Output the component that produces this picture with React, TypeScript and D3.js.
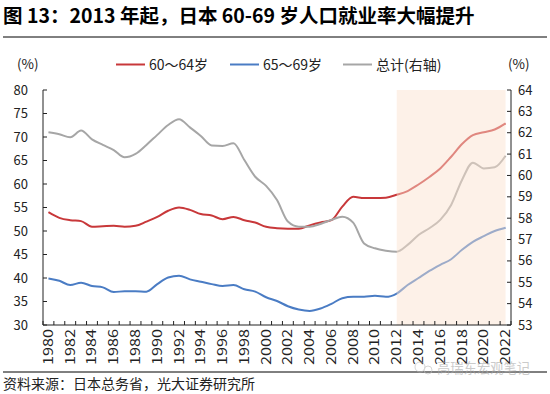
import React from "react";
import * as d3 from "d3";

const years: number[] = d3.range(1980, 2023);
const age6064: number[] = [
  54.0, 52.8, 52.3, 52.1, 50.9, 51.0, 51.1, 50.9, 51.1, 52.0,
  53.0, 54.3, 55.0, 54.5, 53.6, 53.3, 52.5, 53.0, 52.3, 51.8,
  50.9, 50.6, 50.5, 50.5, 51.2, 51.8, 52.3, 55.2, 57.3, 57.0,
  57.0, 57.1, 57.7, 58.5, 59.9, 61.5, 63.3, 65.8, 68.5, 70.4,
  71.0, 71.6, 72.9,
];
const age6569: number[] = [
  39.9, 39.4, 38.5, 39.0, 38.3, 38.0, 37.0, 37.2, 37.2, 37.1,
  38.7, 40.1, 40.5, 39.7, 39.2, 38.7, 38.3, 38.5, 37.6, 37.1,
  35.9, 35.1, 34.0, 33.3, 33.0, 33.5, 34.5, 35.7, 36.0, 36.0,
  36.2, 36.0, 36.7, 38.5, 40.0, 41.5, 42.8, 44.0, 46.0, 47.7,
  48.9, 50.0, 50.7,
];
const total: number[] = [
  62.02, 61.93, 61.79, 62.10, 61.69, 61.43, 61.19, 60.85, 61.01, 61.43,
  61.90, 62.36, 62.63, 62.25, 61.85, 61.40, 61.38, 61.51, 60.72, 59.94,
  59.51, 58.85, 57.84, 57.60, 57.60, 57.73, 57.92, 58.07, 57.79, 56.82,
  56.59, 56.48, 56.43, 56.75, 57.21, 57.53, 57.92, 58.62, 59.79, 60.60,
  60.33, 60.38, 60.92,
];
const leftTicks: number[] = [30, 35, 40, 45, 50, 55, 60, 65, 70, 75, 80];
const rightTicks: number[] = [53, 54, 55, 56, 57, 58, 59, 60, 61, 62, 63, 64];
const xLabelYears: number[] = d3.range(1980, 2023, 2);
const shadeFrom = 2012;
const shadeTo = 2022;

const seriesInfo = [
  { name: "60～64岁", data: age6064, color: "#c8383a", axis: "left" },
  { name: "65～69岁", data: age6569, color: "#4a7cc4", axis: "left" },
  { name: "总计(右轴)", data: total, color: "#a6a6a6", axis: "right" },
];

const FONT = "'Noto Sans CJK SC', 'Noto Sans', sans-serif";

export default function App() {
  const W = 550, H = 394;
  const left = 43, right = 511, top = 90, bottom = 325;
  const x = d3.scaleBand<number>().domain(years).range([left, right]).padding(0);
  const cx = (yr: number) => (x(yr) as number) + x.bandwidth() / 2;
  const yL = d3.scaleLinear().domain([30, 80]).range([bottom, top]);
  const yR = d3.scaleLinear().domain([53, 64]).range([bottom, top]);

  const lineGen = (data: number[], sc: d3.ScaleLinear<number, number>) =>
    d3.line<number>()
      .x((_, i) => cx(years[i]))
      .y((d) => sc(d))
      .curve(d3.curveMonotoneX)(data) as string;

  const boundaries = d3.range(0, years.length + 1).map((i) => left + i * x.bandwidth());

  return (
    <svg width={W} height={H} style={{ position: "absolute", left: 0, top: 0, background: "#fff" }} fontFamily={FONT}>
      <text x={3} y={23} fontSize={19.5} fontWeight="bold" fill="#000">图 13：2013 年起，日本 60-69 岁人口就业率大幅提升</text>
      <line x1={3} x2={547} y1={37} y2={37} stroke="#000" strokeWidth={1} />

      {/* legend */}
      <text x={17} y={69} fontSize={13.5} fill="#222">(%)</text>
      <text x={508} y={69} fontSize={13.5} fill="#222">(%)</text>
      {seriesInfo.map((s, i) => {
        const lx = [116, 230, 343][i];
        return (
          <g key={s.name}>
            <line x1={lx} x2={lx + 29} y1={64.5} y2={64.5} stroke={s.color} strokeWidth={2} />
            <text x={lx + 33} y={69.5} fontSize={14} fill="#222">{s.name}</text>
          </g>
        );
      })}

      {/* lines */}
      {seriesInfo.map((s) => (
        <path key={s.name} d={lineGen(s.data, s.axis === "left" ? yL : yR)} fill="none" stroke={s.color} strokeWidth={2} />
      ))}

      {/* shaded overlay */}
      <rect x={cx(shadeFrom)} y={top} width={cx(shadeTo) - cx(shadeFrom)} height={bottom - top}
        fill="rgb(251,225,206)" fillOpacity={0.47} />

      {/* left axis */}
      <line x1={left} x2={left} y1={top} y2={bottom} stroke="#222" />
      {leftTicks.map((t) => (
        <g key={t}>
          <line x1={left} x2={left + 4} y1={yL(t)} y2={yL(t)} stroke="#222" />
          <text x={28} y={yL(t)} dy="0.35em" textAnchor="end" fontSize={13} fill="#222">{t}</text>
        </g>
      ))}
      {/* right axis */}
      <line x1={right} x2={right} y1={top} y2={bottom} stroke="#222" />
      {rightTicks.map((t) => (
        <g key={t}>
          <line x1={right - 4} x2={right} y1={yR(t)} y2={yR(t)} stroke="#222" />
          <text x={518} y={yR(t)} dy="0.35em" textAnchor="start" fontSize={13} fill="#222">{t}</text>
        </g>
      ))}
      {/* bottom axis */}
      <line x1={left} x2={right} y1={bottom} y2={bottom} stroke="#222" />
      {boundaries.map((b, i) => (
        <line key={i} x1={b} x2={b} y1={bottom} y2={bottom - 4} stroke="#222" />
      ))}
      {xLabelYears.map((yr) => (
        <text key={yr} transform={`translate(${cx(yr) + 4.5},${bottom + 4}) rotate(-90)`} textAnchor="end"
          fontSize={13} textLength={36} lengthAdjust="spacingAndGlyphs" fill="#222">{yr}</text>
      ))}

      {/* footer */}
      <line x1={3} x2={547} y1={372} y2={372} stroke="#000" strokeWidth={1} />
      <text x={3} y={389} fontSize={14} fill="#222">资料来源：日本总务省，光大证券研究所</text>
      <g opacity={0.6}>
        <circle cx={420} cy={367} r={5} fill="none" stroke="#bbb" />
        <circle cx={428} cy={370} r={4} fill="none" stroke="#bbb" />
        <text x={437} y={373} fontSize={13.3} fill="#aaa">高瑞东宏观笔记</text>
      </g>
    </svg>
  );
}
